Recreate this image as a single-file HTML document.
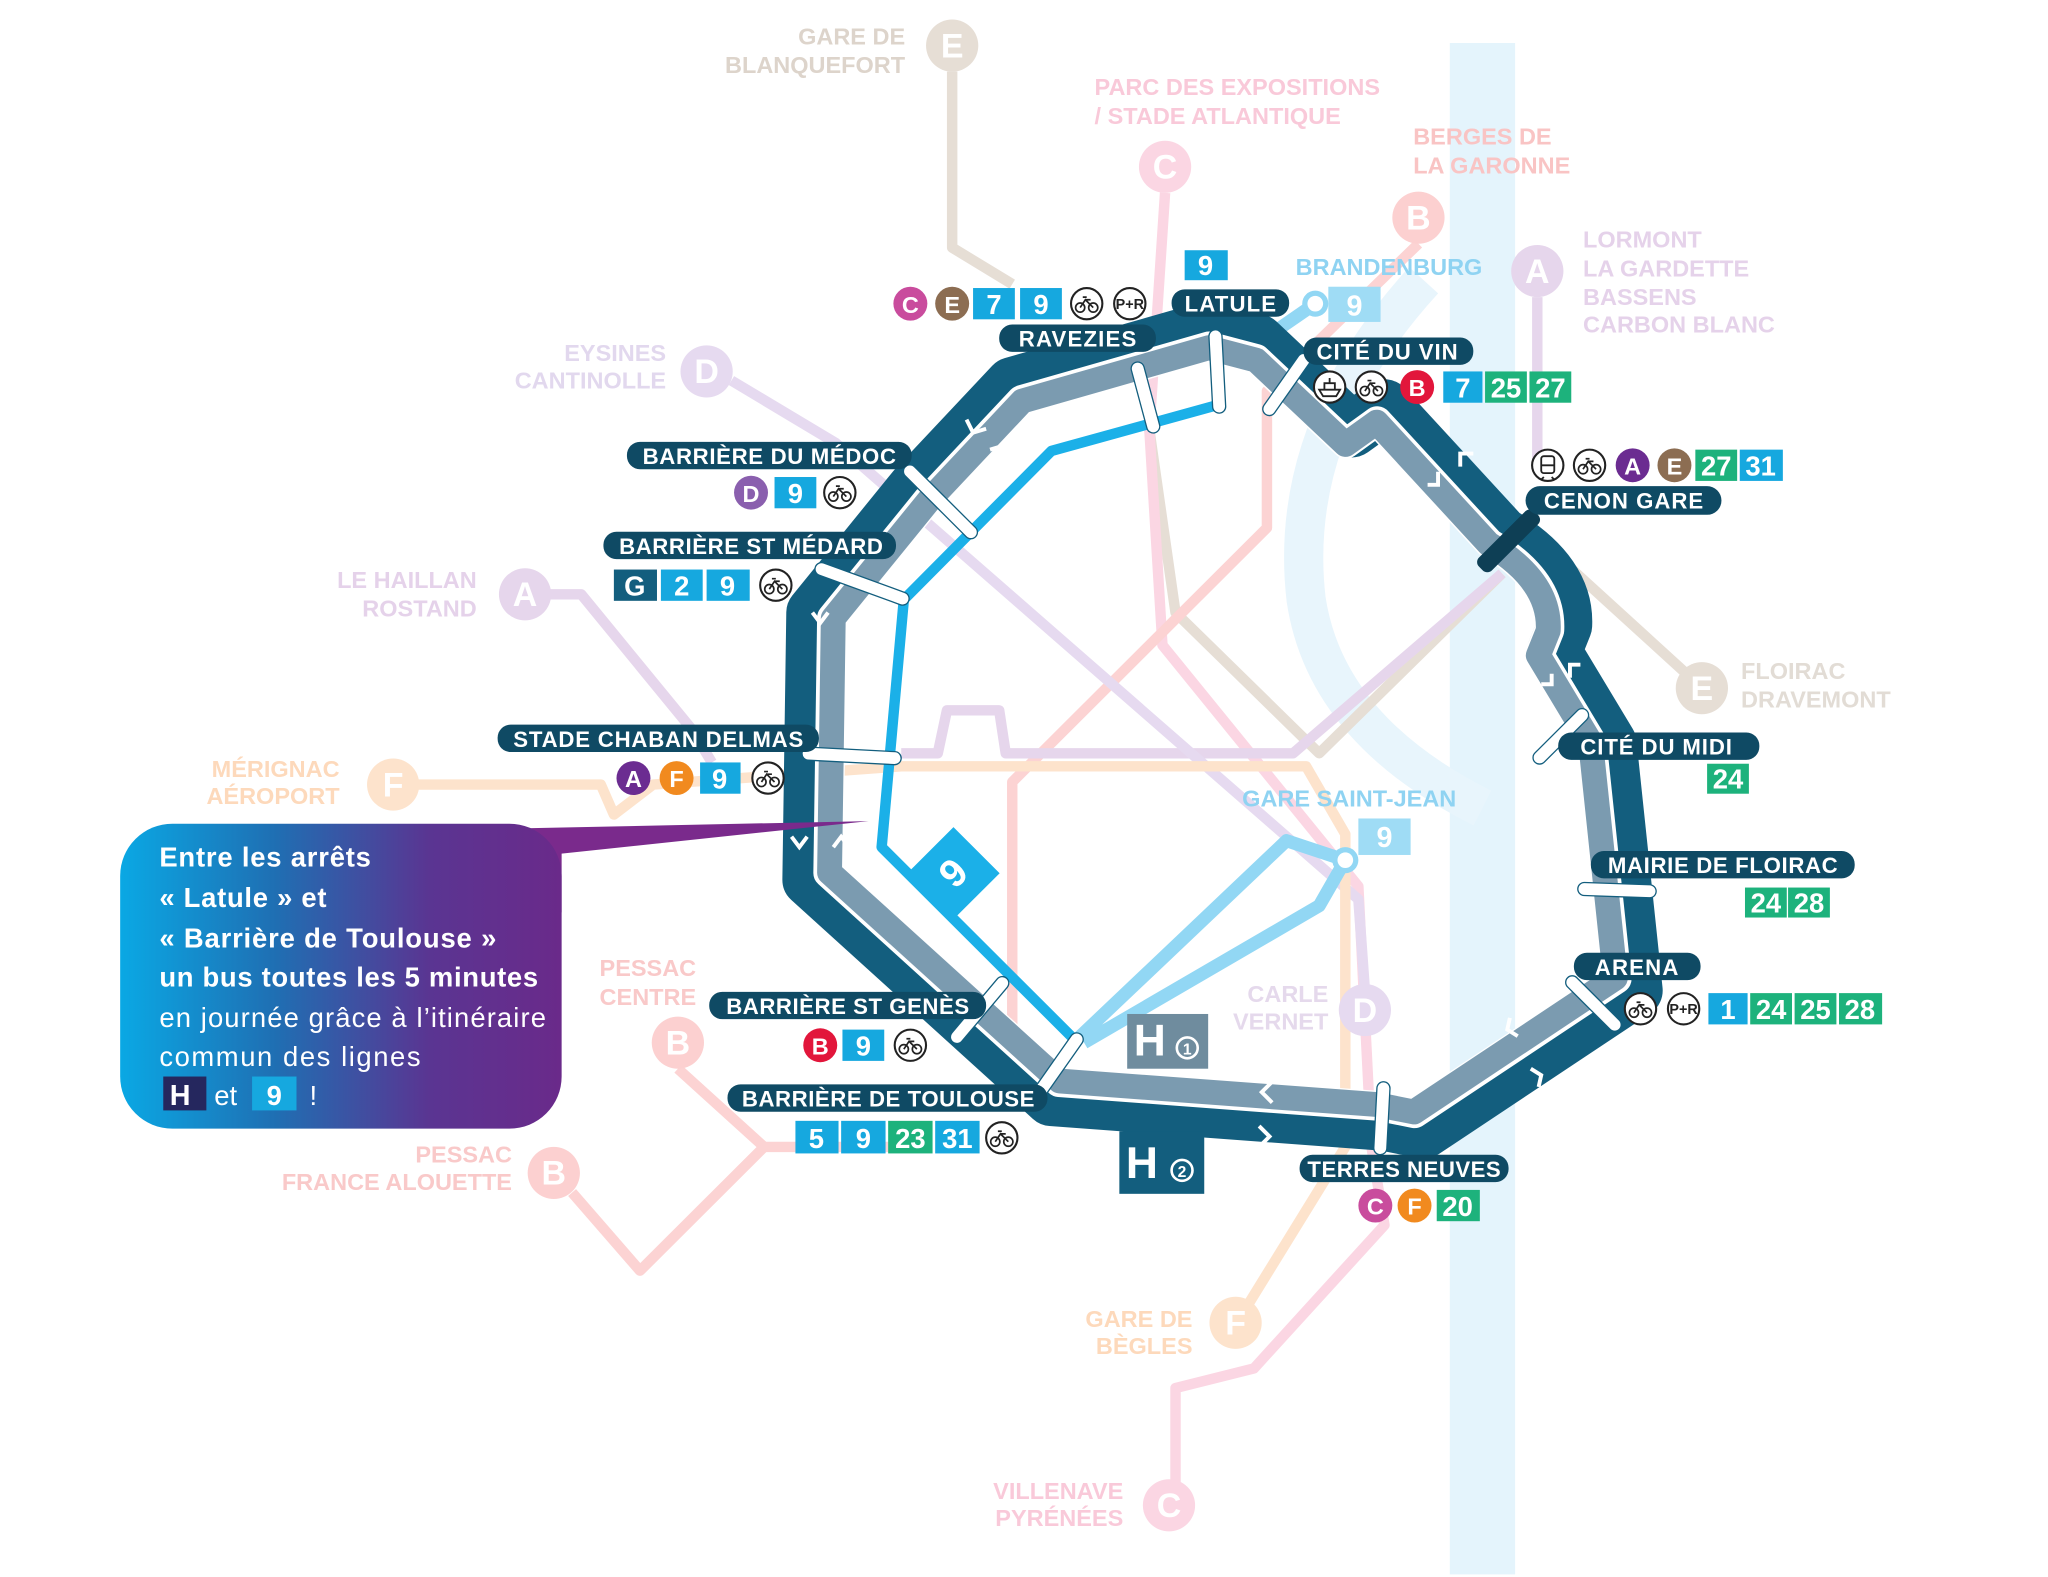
<!DOCTYPE html>
<html><head><meta charset="utf-8"><style>
html,body{margin:0;padding:0;background:#fff;overflow:hidden}
svg{display:block}
text{font-family:"Liberation Sans",sans-serif;font-weight:bold}
text.n{font-weight:normal}
</style></head><body>
<svg width="2048" height="1577" viewBox="0 0 1568 1210" preserveAspectRatio="none" xmlns="http://www.w3.org/2000/svg">
<defs>
<linearGradient id="g" x1="0" x2="1" y1="0" y2="0">
<stop offset="0" stop-color="#0aa8e4"/><stop offset="0.35" stop-color="#1f6fb3"/><stop offset="0.7" stop-color="#5a3592"/><stop offset="1" stop-color="#6a2a8a"/>
</linearGradient>
<g id="bike"><circle r="12" fill="#fff" stroke="#222" stroke-width="1.6"/><circle cx="-5" cy="3" r="3.5" fill="none" stroke="#222" stroke-width="1.3"/><circle cx="5" cy="3" r="3.5" fill="none" stroke="#222" stroke-width="1.3"/><path d="M-5 3 L-1 -3 L5 3 M-1 -3 L3 -3 M-3 -5 L0 -5" stroke="#222" stroke-width="1.3" fill="none"/></g>
<g id="pr"><circle r="12" fill="#fff" stroke="#222" stroke-width="1.6"/><text x="0" y="4" font-size="11" text-anchor="middle" fill="#222">P+R</text></g>
</defs>
<rect width="1568" height="1210" fill="#fff"/>
<rect x="1110" y="33" width="50" height="1175" fill="#e4f4fc"/>
<path d="M1090 215 Q985 330 1000 460 Q1015 560 1135 620" fill="none" stroke="#e8f5fc" stroke-width="30"/>
<g fill="none" stroke-width="8" stroke-linejoin="round">
<path d="M729 55 V190 L775 218" stroke="#e6ded5"/>
<path d="M1185 420 L1300 525" stroke="#e6ded5"/>
<path d="M880 330 L900 470 L1010 578 L1150 440" stroke="#e6ded5"/>
<path d="M892 148 L880 330 L890 495 L1040 680 L1050 880 L1060 940 L960 1050 L900 1065 V1150" stroke="#fbd6e3"/>
<path d="M1086 187 L970 300 V405 L775 600 V830" stroke="#fcd3d3"/>
<path d="M519 820 L585 880 L490 975 L438 915 M585 880 H700" stroke="#fcd3d3"/>
<path d="M1177 228 V360" stroke="#e6d6ec"/>
<path d="M421 456 H445 L530 560 L545 585" stroke="#e6d6ec"/>
<path d="M690 578 H718 L725 545 H765 L770 578 H990 L1150 440" stroke="#e6d6ec"/>
<path d="M560 292 L640 340 L1040 690 L1045 760" stroke="#e6daf0"/>
<path d="M320 602 H460 L470 625 L500 602 L690 588 H1000 L1030 640 V880 L950 1010" stroke="#fde3cc"/>
</g>
<g font-size="26" text-anchor="middle" fill="#fff">
<circle cx="729" cy="35" r="20" fill="#e6ded5"/><text x="729" y="44">E</text>
<circle cx="892" cy="128" r="20" fill="#fbd6e3"/><text x="892" y="137">C</text>
<circle cx="1086" cy="167" r="20" fill="#fcd0d0"/><text x="1086" y="176">B</text>
<circle cx="1177" cy="208" r="20" fill="#e6d6ec"/><text x="1177" y="217">A</text>
<circle cx="541" cy="285" r="20" fill="#e6daf0"/><text x="541" y="294">D</text>
<circle cx="402" cy="456" r="20" fill="#e6d6ec"/><text x="402" y="465">A</text>
<circle cx="301" cy="602" r="20" fill="#fde3cc"/><text x="301" y="611">F</text>
<circle cx="519" cy="800" r="20" fill="#fcd0d0"/><text x="519" y="809">B</text>
<circle cx="424" cy="900" r="20" fill="#fcd0d0"/><text x="424" y="909">B</text>
<circle cx="1303" cy="528" r="20" fill="#e6ded5"/><text x="1303" y="537">E</text>
<circle cx="1045" cy="775" r="20" fill="#e6daf0"/><text x="1045" y="784">D</text>
<circle cx="946" cy="1015" r="20" fill="#fde3cc"/><text x="946" y="1024">F</text>
<circle cx="895" cy="1155" r="20" fill="#fbd6e3"/><text x="895" y="1164">C</text>
</g>
<g font-size="18">
<g text-anchor="end" fill="#ddd4cb"><text x="693" y="34">GARE DE</text><text x="693" y="56">BLANQUEFORT</text></g>
<g fill="#f9c9d9"><text x="838" y="73">PARC DES EXPOSITIONS</text><text x="838" y="95">/ STADE ATLANTIQUE</text></g>
<g fill="#f9c4c4"><text x="1082" y="111">BERGES DE</text><text x="1082" y="133">LA GARONNE</text></g>
<g fill="#e5d2ea"><text x="1212" y="190">LORMONT</text><text x="1212" y="212">LA GARDETTE</text><text x="1212" y="234">BASSENS</text><text x="1212" y="255">CARBON BLANC</text></g>
<g text-anchor="end" fill="#e2d8ee"><text x="510" y="277">EYSINES</text><text x="510" y="298">CANTINOLLE</text></g>
<g text-anchor="end" fill="#e5d2ea"><text x="365" y="451">LE HAILLAN</text><text x="365" y="473">ROSTAND</text></g>
<g text-anchor="end" fill="#fdd9bb"><text x="260" y="596">MÉRIGNAC</text><text x="260" y="617">AÉROPORT</text></g>
<g text-anchor="end" fill="#f9c9c9"><text x="533" y="749">PESSAC</text><text x="533" y="771">CENTRE</text></g>
<g text-anchor="end" fill="#f9c9c9"><text x="392" y="892">PESSAC</text><text x="392" y="913">FRANCE ALOUETTE</text></g>
<g fill="#e2dcd5"><text x="1333" y="521">FLOIRAC</text><text x="1333" y="543">DRAVEMONT</text></g>
<g text-anchor="end" fill="#e5d9ec"><text x="1017" y="769">CARLE</text><text x="1017" y="790">VERNET</text></g>
<g text-anchor="end" fill="#fdd9bb"><text x="913" y="1018">GARE DE</text><text x="913" y="1039">BÈGLES</text></g>
<g text-anchor="end" fill="#f9c9d9"><text x="860" y="1150">VILLENAVE</text><text x="860" y="1171">PYRÉNÉES</text></g>
<text x="1033" y="619" text-anchor="middle" fill="#8fd3f2">GARE SAINT-JEAN</text>
<text x="992" y="211" fill="#8fd3f2">BRANDENBURG</text>
</g>
<path d="M1030 660 L985 645 L822 800 M1030 660 L1010 695 L830 800" fill="none" stroke="#92d7f4" stroke-width="10" stroke-linejoin="round"/>
<circle cx="1030" cy="660" r="8" fill="#fff" stroke="#92d7f4" stroke-width="4"/>
<rect x="1040" y="628" width="40" height="28" fill="#9fdcf5"/><text x="1060" y="650" font-size="22" fill="#fff" text-anchor="middle">9</text>
<path d="M1007 233 L965 262" stroke="#92d7f4" stroke-width="10"/>
<circle cx="1007" cy="233" r="8" fill="#fff" stroke="#92d7f4" stroke-width="4"/>
<rect x="1017" y="220" width="40" height="27" fill="#9fdcf5"/><text x="1037" y="242" font-size="22" fill="#fff" text-anchor="middle">9</text>
<g fill="none" stroke-linejoin="round" stroke-linecap="round">
<path d="M775 295 L925 252 L963 262 L1035 330 L1060 312 L1150 410 Q1200 440 1198 480 L1190 500 L1232 570 L1252 760 L1090 868 L1060 862 L805 843 L620 675 L623 470 L700 375 Z" stroke="#135e7e" stroke-width="42"/>
<g transform="translate(935 560) scale(0.955) translate(-935 -560)">
<path d="M775 295 L925 252 L963 262 L1035 330 L1060 312 L1150 410 Q1200 440 1198 480 L1190 500 L1232 570 L1252 760 L1090 868 L1060 862 L805 843 L620 675 L623 470 L700 375 Z" stroke="#fff" stroke-width="24"/>
</g>
<g transform="translate(935 560) scale(0.952) translate(-935 -560)">
<path d="M775 295 L925 252 L963 262 L1035 330 L1060 312 L1150 410 Q1200 440 1198 480 L1190 500 L1232 570 L1252 760 L1090 868 L1060 862 L805 843 L620 675 L623 470 L700 375 Z" stroke="#7b9bb0" stroke-width="20"/>
</g>
<path d="M935 310 L805 346 L692 460 L675 650 L823 798" stroke="#1bb0e8" stroke-width="8" stroke-linecap="butt"/>
</g>
<g fill="none" stroke="#fff" stroke-width="3">
<path d="M740 322 l5 10 l10 -3"/><path d="M770 352 l-2 -10 l-10 3"/>
<path d="M622 470 l6 8 l6 -8"/><path d="M653 478 l6 -8 l6 8"/>
<path d="M606 642 l6 8 l6 -8"/><path d="M638 650 l6 -8 l6 8"/>
<path d="M1128 348 l-10 0 l0 10"/><path d="M1093 372 l8 0 l0 -10"/>
<path d="M1210 510 l-8 0 l0 10"/><path d="M1180 525 l8 0 l0 -8"/>
<path d="M1162 795 l-8 -5 l2 -9"/><path d="M1172 820 l8 5 l-2 9"/>
<path d="M974 830 l-8 8 l8 8"/><path d="M964 864 l8 8 l-8 8"/>
</g>
<rect x="705" y="645" width="50" height="50" fill="#1bb0e8" transform="rotate(45 730 670)"/>
<text x="730" y="680" font-size="30" fill="#fff" text-anchor="middle" transform="rotate(-45 730 670)">9</text>
<rect x="863" y="778" width="62" height="42" fill="#6f8c9e"/><text x="868" y="810" font-size="34" fill="#fff">H</text><circle cx="909" cy="804" r="8" fill="none" stroke="#fff" stroke-width="2"/><text x="909" y="809" font-size="12" fill="#fff" text-anchor="middle">1</text>
<rect x="857" y="868" width="65" height="48" fill="#135e7e"/><text x="862" y="904" font-size="34" fill="#fff">H</text><circle cx="905" cy="898" r="8" fill="none" stroke="#fff" stroke-width="2"/><text x="905" y="903" font-size="12" fill="#fff" text-anchor="middle">2</text>
<g fill="#fff" stroke="#135e7e" stroke-width="1">
<rect x="-5" y="-28" width="10" height="56" rx="5" transform="translate(877 305) rotate(-15)"/>
<rect x="-5" y="-32" width="10" height="64" rx="5" transform="translate(932 285) rotate(-3)"/>
<rect x="-5" y="-28" width="10" height="56" rx="5" transform="translate(985 295) rotate(35)"/>
<rect x="-5" y="-38" width="10" height="76" rx="5" transform="translate(720 385) rotate(-45)"/>
<rect x="-5" y="-38" width="10" height="76" rx="5" transform="translate(660 448) rotate(-70)"/>
<rect x="-5" y="-38" width="10" height="76" rx="5" transform="translate(652 580) rotate(-87)"/>
<rect x="-5" y="-32" width="10" height="64" rx="5" transform="translate(750 775) rotate(40)"/>
<rect x="-5" y="-30" width="10" height="60" rx="5" transform="translate(810 818) rotate(35)"/>
<rect x="-5" y="-28" width="10" height="56" rx="5" transform="translate(1058 858) rotate(3)"/>
<rect x="-5" y="-28" width="10" height="56" rx="5" transform="translate(1220 770) rotate(-45)"/>
<rect x="-5" y="-30" width="10" height="60" rx="5" transform="translate(1238 683) rotate(-88)"/>
<rect x="-5" y="-28" width="10" height="56" rx="5" transform="translate(1195 565) rotate(45)"/>
</g>
<rect x="-7" y="-30" width="14" height="60" rx="5" fill="#0e3f55" transform="translate(1155 415) rotate(45)"/>
<g fill="#0f4a64">
<rect x="765" y="249" width="120" height="21" rx="10"/>
<rect x="897" y="222" width="90" height="21" rx="10"/>
<rect x="998" y="259" width="130" height="21" rx="10"/>
<rect x="1168" y="373" width="150" height="22" rx="11"/>
<rect x="1193" y="562" width="154" height="21" rx="10"/>
<rect x="1218" y="653" width="202" height="21" rx="10"/>
<rect x="1205" y="731" width="97" height="21" rx="10"/>
<rect x="995" y="886" width="160" height="21" rx="10"/>
<rect x="557" y="832" width="245" height="21" rx="10"/>
<rect x="543" y="761" width="212" height="21" rx="10"/>
<rect x="381" y="556" width="246" height="21" rx="10"/>
<rect x="462" y="408" width="224" height="21" rx="10"/>
<rect x="480" y="339" width="218" height="21" rx="10"/>
</g>
<g fill="#fff" font-size="17" text-anchor="middle" lengthAdjust="spacingAndGlyphs">
<text x="825" y="266" textLength="90">RAVEZIES</text>
<text x="942" y="239" textLength="70">LATULE</text>
<text x="1062" y="276" textLength="108">CITÉ DU VIN</text>
<text x="1243" y="390" textLength="122">CENON GARE</text>
<text x="1268" y="579" textLength="116">CITÉ DU MIDI</text>
<text x="1319" y="670" textLength="176">MAIRIE DE FLOIRAC</text>
<text x="1253" y="748" textLength="64">ARENA</text>
<text x="1075" y="903" textLength="148">TERRES NEUVES</text>
<text x="680" y="849" textLength="224">BARRIÈRE DE TOULOUSE</text>
<text x="649" y="778" textLength="186">BARRIÈRE ST GENÈS</text>
<text x="504" y="573" textLength="222">STADE CHABAN DELMAS</text>
<text x="575" y="425" textLength="202">BARRIÈRE ST MÉDARD</text>
<text x="589" y="356" textLength="194">BARRIÈRE DU MÉDOC</text>
</g>
<g font-size="21" fill="#fff" text-anchor="middle">
<rect x="907" y="192" width="33" height="23" fill="#16a8df"/><text x="923" y="211">9</text>
<rect x="745" y="221" width="32" height="24" fill="#16a8df"/><text x="761" y="241">7</text>
<rect x="781" y="221" width="32" height="24" fill="#16a8df"/><text x="797" y="241">9</text>
<rect x="1105" y="285" width="30" height="24" fill="#16a8df"/><text x="1120" y="305">7</text>
<rect x="1137" y="285" width="32" height="24" fill="#1db27c"/><text x="1153" y="305">25</text>
<rect x="1171" y="285" width="32" height="24" fill="#1db27c"/><text x="1187" y="305">27</text>
<rect x="1298" y="345" width="32" height="24" fill="#1db27c"/><text x="1314" y="365">27</text>
<rect x="1332" y="345" width="33" height="24" fill="#16a8df"/><text x="1348" y="365">31</text>
<rect x="1307" y="586" width="32" height="23" fill="#1db27c"/><text x="1323" y="605">24</text>
<rect x="1336" y="681" width="32" height="23" fill="#1db27c"/><text x="1352" y="700">24</text>
<rect x="1369" y="681" width="32" height="23" fill="#1db27c"/><text x="1385" y="700">28</text>
<rect x="1308" y="762" width="30" height="24" fill="#16a8df"/><text x="1323" y="782">1</text>
<rect x="1340" y="762" width="32" height="24" fill="#1db27c"/><text x="1356" y="782">24</text>
<rect x="1374" y="762" width="32" height="24" fill="#1db27c"/><text x="1390" y="782">25</text>
<rect x="1408" y="762" width="33" height="24" fill="#1db27c"/><text x="1424" y="782">28</text>
<rect x="1100" y="913" width="33" height="24" fill="#1db27c"/><text x="1116" y="933">20</text>
<rect x="609" y="860" width="33" height="25" fill="#16a8df"/><text x="625" y="881">5</text>
<rect x="644" y="860" width="34" height="25" fill="#16a8df"/><text x="661" y="881">9</text>
<rect x="680" y="860" width="34" height="25" fill="#1db27c"/><text x="697" y="881">23</text>
<rect x="716" y="860" width="34" height="25" fill="#16a8df"/><text x="733" y="881">31</text>
<rect x="645" y="790" width="32" height="24" fill="#16a8df"/><text x="661" y="810">9</text>
<rect x="536" y="585" width="31" height="24" fill="#16a8df"/><text x="551" y="605">9</text>
<rect x="470" y="437" width="33" height="24" fill="#135e7e"/><text x="486" y="457">G</text>
<rect x="506" y="437" width="32" height="24" fill="#16a8df"/><text x="522" y="457">2</text>
<rect x="541" y="437" width="33" height="24" fill="#16a8df"/><text x="557" y="457">9</text>
<rect x="593" y="366" width="32" height="24" fill="#16a8df"/><text x="609" y="386">9</text>
</g>
<g font-size="18" fill="#fff" text-anchor="middle">
<circle cx="697" cy="233" r="13" fill="#c94c9d"/><text x="697" y="240">C</text>
<circle cx="729" cy="233" r="13" fill="#8c6d52"/><text x="729" y="240">E</text>
<circle cx="1085" cy="297" r="13" fill="#e2163b"/><text x="1085" y="304">B</text>
<circle cx="1250" cy="357" r="13" fill="#6b2c91"/><text x="1250" y="364">A</text>
<circle cx="1282" cy="357" r="13" fill="#8c6d52"/><text x="1282" y="364">E</text>
<circle cx="1053" cy="925" r="13" fill="#c94c9d"/><text x="1053" y="932">C</text>
<circle cx="1083" cy="925" r="13" fill="#f18a1f"/><text x="1083" y="932">F</text>
<circle cx="628" cy="802" r="13" fill="#e2163b"/><text x="628" y="809">B</text>
<circle cx="485" cy="597" r="13" fill="#6b2c91"/><text x="485" y="604">A</text>
<circle cx="518" cy="597" r="13" fill="#f18a1f"/><text x="518" y="604">F</text>
<circle cx="575" cy="378" r="13" fill="#8a5fae"/><text x="575" y="385">D</text>
</g>
<use href="#bike" x="832" y="233"/><use href="#pr" x="865" y="233"/>
<use href="#bike" x="1050" y="297"/>
<g transform="translate(1018 297)"><circle r="12" fill="#fff" stroke="#222" stroke-width="1.6"/><path d="M-8 2 H8 L5 7 H-5 Z M-4 2 V-3 H4 V2 M0 -3 V-7" fill="none" stroke="#222" stroke-width="1.4"/></g>
<g transform="translate(1185 357)"><circle r="12" fill="#fff" stroke="#222" stroke-width="1.6"/><rect x="-5" y="-7" width="10" height="13" rx="2" fill="none" stroke="#222" stroke-width="1.4"/><path d="M-5 0 H5 M-3 9 L-5 11 M3 9 L5 11" stroke="#222" stroke-width="1.4"/></g>
<use href="#bike" x="1217" y="357"/>
<use href="#bike" x="1256" y="774"/><use href="#pr" x="1289" y="774"/>
<use href="#bike" x="767" y="873"/>
<use href="#bike" x="697" y="802"/>
<use href="#bike" x="588" y="597"/>
<use href="#bike" x="594" y="449"/>
<use href="#bike" x="643" y="378"/>
<path d="M380 636 L665 630 L430 655 L430 700 L380 700 Z" fill="#7a2a8c"/>
<rect x="92" y="632" width="338" height="234" rx="40" fill="url(#g)"/>
<g fill="#fff">
<text x="122" y="665" font-size="21" textLength="162">Entre les arrêts</text>
<text x="122" y="696" font-size="21" textLength="128">« Latule » et</text>
<text x="122" y="727" font-size="21" textLength="258">« Barrière de Toulouse »</text>
<text x="122" y="757" font-size="21" textLength="290">un bus toutes les 5 minutes</text>
<text class="n" x="122" y="788" font-size="21" textLength="296">en journée grâce à l’itinéraire</text>
<text class="n" x="122" y="818" font-size="21" textLength="200">commun des lignes</text>
<rect x="125" y="826" width="33" height="26" fill="#25275e"/><text x="130" y="848" font-size="22">H</text>
<text class="n" x="164" y="848" font-size="21">et</text>
<rect x="193" y="826" width="34" height="26" fill="#16a8df"/><text x="210" y="848" font-size="21" text-anchor="middle">9</text>
<text class="n" x="237" y="848" font-size="21">!</text>
</g>
</svg>
</body></html>
